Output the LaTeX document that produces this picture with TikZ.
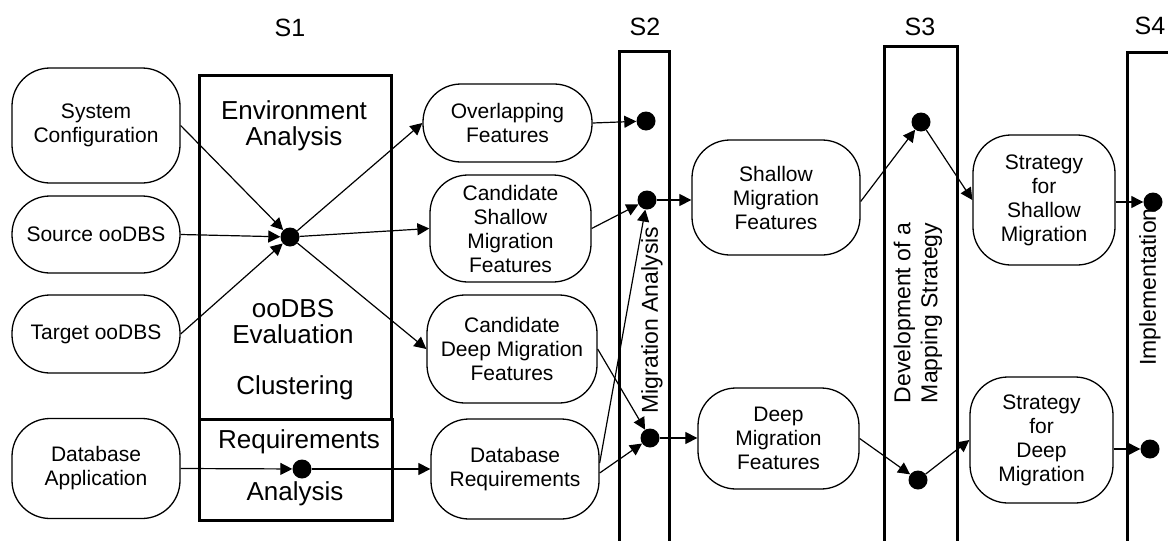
\documentclass[tikz,border=0pt]{standalone}
\usepackage{fontspec}
\setmainfont{Liberation Sans}
\usetikzlibrary{arrows.meta}
\begin{document}
\begin{tikzpicture}[x=1pt,y=-1pt,
  rnode/.style={draw, line width=1.3pt, rounded corners=38pt, align=center, inner sep=0pt, font=\fontsize{21}{24}\selectfont},
  dot/.style={circle, fill=black, minimum size=19pt, inner sep=0pt},
  stagebox/.style={draw, line width=3pt},
  conn/.style={line width=1.2pt, -{Triangle[length=12pt,width=12pt]}},
  big/.style={font=\fontsize{26}{26}\selectfont, align=center, inner sep=0pt},
  slabel/.style={font=\fontsize{25}{25}\selectfont, inner sep=0pt},
  vlabel/.style={font=\fontsize{23}{27}\selectfont, rotate=90, align=center, inner sep=0pt}
]
\useasboundingbox (0,0) rectangle (1168,541);
\clip (0,0) rectangle (1168,541);

% stage boxes
\draw[stagebox] (199,75) rectangle (391,419);
\draw[stagebox] (199,419) rectangle (392,520);
\draw[stagebox] (619,51) rectangle (669,560);
\draw[stagebox] (884,46) rectangle (957,560);
\draw[stagebox] (1127,52) rectangle (1200,560);

% stage labels
\node[slabel] (s1) at (290,28) {S1};
\node[slabel] (s2) at (645,27) {S2};
\node[slabel] (s3) at (920,27) {S3};
\node[slabel] (s4) at (1150,26) {S4};

% texts in S1
\node[big] (envan) at (294,126) {Environment\\Analysis};
\node[big] (ooeval) at (293,322) {ooDBS\\Evaluation};
\node[big] (clus) at (295,388) {Clustering};
\node[big] (reqtxt) at (299,442) {Requirements};
\node[big] (anatxt) at (295,494) {Analysis};

% vertical labels
\node[vlabel] (mig) at (652,320) {Migration Analysis};
\node[vlabel] (dev) at (918,313) {Development of a\\Mapping Strategy};
\node[vlabel] (impl) at (1150,287) {Implementation};

% rounded nodes
\node[rnode, minimum width=168pt, minimum height=115pt] (sys) at (96,125.5) {System\\Configuration};
\node[rnode, minimum width=168pt, minimum height=77pt] (src) at (96,234.5) {Source ooDBS};
\node[rnode, minimum width=168pt, minimum height=78pt] (tgt) at (96,334) {Target ooDBS};
\node[rnode, minimum width=168pt, minimum height=100pt] (dbapp) at (96,468.5) {Database\\Application};
\node[rnode, minimum width=169pt, minimum height=78pt] (ovl) at (507.5,123) {Overlapping\\Features};
\node[rnode, minimum width=161pt, minimum height=107pt] (csm) at (510.5,228.5) {Candidate\\Shallow\\Migration\\Features};
\node[rnode, minimum width=170pt, minimum height=108pt] (cdm) at (512,349) {Candidate\\Deep Migration\\Features};
\node[rnode, minimum width=168pt, minimum height=100pt] (dbreq) at (515,469) {Database\\Requirements};
\node[rnode, minimum width=168pt, minimum height=115pt] (smf) at (776,197.5) {Shallow\\Migration\\Features};
\node[rnode, minimum width=161pt, minimum height=101pt] (dmf) at (778.5,438.5) {Deep\\Migration\\Features};
\node[rnode, minimum width=142pt, minimum height=130pt] (ssm) at (1044,200) {Strategy\\for\\Shallow\\Migration};
\node[rnode, minimum width=143pt, minimum height=126pt] (sdm) at (1041.5,440) {Strategy\\for\\Deep\\Migration};

% dots
\node[dot] (hub) at (290,237) {};
\node[dot] (rdot) at (302,469) {};
\node[dot] (dovl) at (646,121) {};
\node[dot] (dsh) at (647,200) {};
\node[dot] (ddp) at (650,438) {};
\node[dot] (d3a) at (921,122) {};
\node[dot] (d3b) at (918,480) {};
\node[dot] (d4a) at (1153,202) {};
\node[dot] (d4b) at (1150,449) {};

% connectors
\draw[conn] (sys.east) -- (hub);
\draw[conn] (src.east) -- (hub);
\draw[conn] (tgt.east) -- (hub);
\draw[conn] (hub) -- (ovl.west);
\draw[conn] (hub) -- (csm.west);
\draw[conn] (hub) -- (cdm.west);
\draw[conn] (dbapp.east) -- (rdot);
\draw[conn] (rdot) -- (dbreq.west);
\draw[conn] (ovl.east) -- (dovl);
\draw[conn] (csm.east) -- (dsh);
\draw[conn] ([yshift=6pt]dbreq.east) -- (dsh);
\draw[conn] ([yshift=-4pt]dbreq.east) -- (ddp);
\draw[conn] (cdm.east) -- (ddp);
\draw[conn] (dsh) -- (dsh -| smf.west);
\draw[conn] (ddp) -- (ddp -| dmf.west);
\draw[conn] ([yshift=-4pt]smf.east) -- (d3a);
\draw[conn] (d3a) -- (ssm.west);
\draw[conn] (dmf.east) -- (d3b);
\draw[conn] (d3b) -- (sdm.west);
\draw[conn] (d4a -| ssm.east) -- (d4a);
\draw[conn] (d4b -| sdm.east) -- (d4b);
\end{tikzpicture}
\end{document}
